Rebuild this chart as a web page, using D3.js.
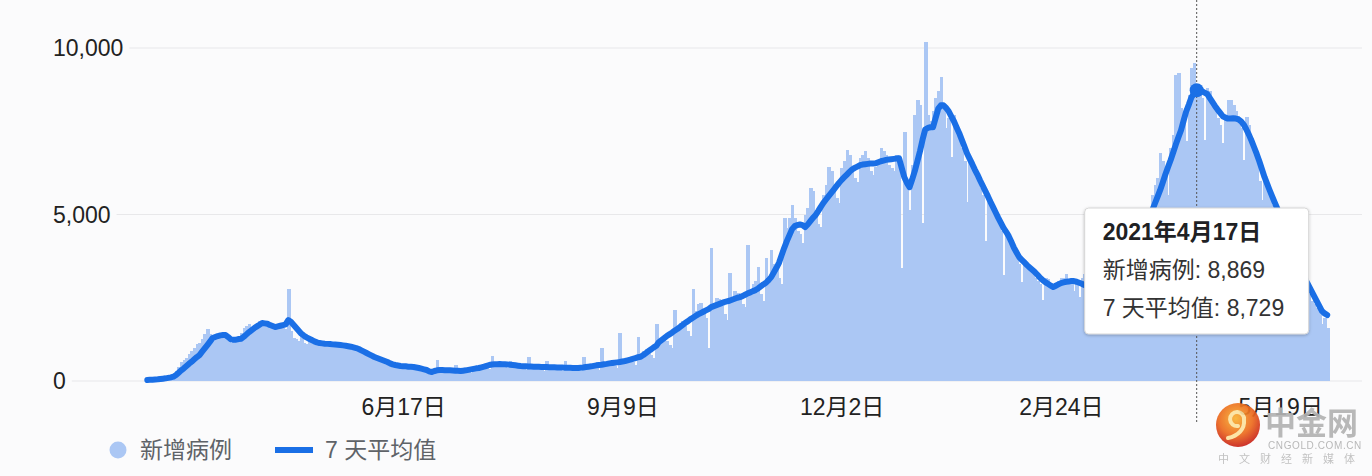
<!DOCTYPE html>
<html>
<head>
<meta charset="utf-8">
<script src="https://cdn.jsdelivr.net/npm/d3@7"></script>
<style>
html, body { margin: 0; padding: 0; background: #fbfbfc; }
svg { display: block; font-family: "Liberation Sans", Arial, "Noto Sans CJK SC", sans-serif; }
</style>
</head>
<body>
<svg id="chart" width="1372" height="476"></svg>
<script>
// daily series, one row = one week, first day 2020-03-11
var startDate = "2020-03-11";

var newCases = [
  25, 30, 40, 45, 60, 80, 95,
  90, 120, 160, 220, 300, 420, 560,
  640, 700, 800, 900, 1000, 1100, 1150,
  1250, 1400, 1550, 1400, 1300, 1250, 1350,
  1450, 1400, 1300, 1200, 1150, 1250, 1300,
  1350, 1450, 1600, 1650, 1700, 1550, 1650,
  1750, 1800, 1800, 1700, 1650, 1600, 1700,
  1600, 1650, 1700, 1600, 1550, 2760, 1500,
  1300, 1250, 1200, 1350, 1150, 1100, 1250,
  1200, 1150, 1120, 1100, 1150, 1100, 1150,
  1120, 1100, 1080, 1050, 1100, 1050, 1080,
  1050, 1000, 980, 950, 900, 850, 860,
  800, 780, 720, 700, 650, 640, 620,
  580, 560, 520, 480, 470, 440, 450,
  440, 430, 420, 410, 400, 390, 380,
  350, 320, 290, 240, 220, 330, 620,
  250, 320, 330, 300, 260, 240, 480,
  320, 330, 340, 300, 260, 250, 430,
  420, 450, 470, 420, 380, 350, 740,
  520, 540, 530, 460, 420, 380, 600,
  480, 470, 460, 410, 370, 340, 720,
  430, 420, 410, 380, 340, 310, 600,
  400, 410, 400, 370, 330, 300, 600,
  380, 390, 380, 350, 320, 290, 720,
  430, 450, 460, 420, 380, 340, 990,
  500, 520, 560, 500, 440, 400, 1440,
  600, 640, 680, 620, 560, 480, 1320,
  800, 900, 950, 880, 780, 700, 1710,
  1150, 1250, 1300, 1200, 1080, 1000, 2130,
  1600, 1750, 1800, 1650, 1500, 1350, 2760,
  2100, 2300, 2350, 2100, 1900, 990, 3990,
  2300, 2500, 2450, 2250, 2000, 1830, 3240,
  2500, 2700, 2650, 2450, 2300, 2220, 4080,
  2750, 2900, 3000, 3420, 2600, 2400, 3700,
  3100, 3930, 3500, 3400, 3100, 2900, 4900,
  4600, 4900, 5300, 4900, 4500, 4400, 4140,
  5000, 5200, 5790, 5700, 5000, 4700, 4620,
  5600, 5900, 6420, 6300, 5800, 5500, 5340,
  6400, 6600, 6930, 6800, 6300, 6100, 5970,
  6700, 6800, 6900, 6700, 6300, 6200, 6420,
  6600, 6990, 6900, 6800, 6500, 6400, 6300,
  6780, 6600, 3390, 7470, 6000, 5130, 6500,
  8000, 8430, 8300, 4740, 10170, 8000, 7800,
  8100, 8500, 8700, 9120, 8300, 7600, 7900,
  6720, 8000, 7700, 7400, 7000, 6600, 5370,
  6600, 6500, 6300, 6100, 5800, 5600, 4200,
  5500, 5400, 5200, 5000, 4700, 4500, 3180,
  4500, 4300, 4100, 3900, 3700, 3500, 2970,
  3600, 3500, 3400, 3300, 3100, 3000, 2900,
  2430, 3100, 3050, 2950, 2850, 2800, 3000,
  3100, 3100, 3200, 3000, 2900, 2700, 3000,
  2520, 3100, 3200, 3000, 2900, 2800, 3000,
  2600, 3100, 3300, 3100, 2900, 2800, 3200,
  2900, 3400, 3600, 3500, 3300, 3200, 3800,
  3400, 4100, 4500, 4600, 4400, 4300, 5000,
  5600, 5900, 6100, 6840, 6600, 6400, 5600,
  7000, 7400, 9180, 9240, 8200, 7800, 7200,
  8600, 9400, 9540, 8869, 8700, 8500, 7230,
  8800, 8700, 8400, 8200, 7900, 7700, 7140,
  8000, 8430, 8430, 8300, 8100, 7900, 7600,
  6630, 7920, 7700, 7300, 6900, 6600, 6000,
  5430, 6200, 6000, 5700, 5300, 5000, 4500,
  4800, 4600, 4400, 4100, 3900, 3600, 3300,
  3400, 3300, 3000, 2800, 2600, 2400, 2300,
  2200, 2100, 1700, 1900, 1600
];

var avg7 = [
  30, 35, 40, 45, 50, 60, 70,
  80, 95, 110, 130, 180, 250, 320,
  380, 450, 520, 580, 650, 720, 780,
  880, 980, 1080, 1180, 1290, 1320, 1350,
  1370, 1380, 1380, 1320, 1250, 1240, 1240,
  1260, 1270, 1330, 1400, 1470, 1530, 1590,
  1640, 1690, 1740, 1730, 1720, 1680, 1650,
  1620, 1640, 1660, 1680, 1700, 1830, 1780,
  1690, 1600, 1510, 1420, 1360, 1310, 1270,
  1230, 1190, 1160, 1140, 1130, 1120, 1115,
  1110, 1100, 1095, 1090, 1080, 1070, 1060,
  1045, 1030, 1010, 990, 960, 920, 880,
  840, 800, 760, 720, 690, 660, 630,
  600, 570, 530, 500, 480, 465, 450,
  445, 440, 430, 425, 420, 405, 390,
  370, 350, 330, 290, 270, 300, 320,
  330, 330, 325, 320, 320, 315, 310,
  305, 300, 310, 320, 335, 350, 365,
  380, 390, 410, 430, 455, 480, 495,
  500, 505, 510, 505, 500, 495, 490,
  480, 470, 460, 450, 445, 440, 435,
  432, 430, 428, 425, 422, 420, 418,
  415, 412, 410, 408, 405, 402, 400,
  398, 395, 392, 390, 392, 398, 405,
  420, 430, 440, 455, 470, 480, 490,
  505, 515, 530, 540, 550, 560, 570,
  585, 600, 620, 640, 665, 690, 715,
  730, 780, 840, 900, 950, 1010, 1060,
  1170, 1230, 1290, 1350, 1400, 1450, 1510,
  1560, 1620, 1680, 1740, 1790, 1850, 1900,
  1950, 2000, 2040, 2080, 2120, 2160, 2220,
  2250, 2280, 2310, 2340, 2370, 2390, 2410,
  2440, 2470, 2500, 2520, 2550, 2590, 2630,
  2660, 2700, 2730, 2780, 2840, 2900, 2950,
  3030, 3120, 3260, 3400, 3550, 3780, 4000,
  4200, 4380, 4560, 4650, 4680, 4700, 4680,
  4620, 4700, 4800, 4900, 4980, 5100, 5230,
  5350, 5450, 5550, 5650, 5750, 5850, 5950,
  6040, 6120, 6200, 6280, 6350, 6400, 6440,
  6480, 6500, 6510, 6520, 6530, 6535, 6540,
  6570, 6600, 6620, 6640, 6650, 6660, 6670,
  6680, 6690, 6400, 6120, 5950, 5820, 6050,
  6300, 6600, 6900, 7250, 7550, 7600, 7620,
  7620, 7900, 8180, 8280, 8280, 8200, 8100,
  7950, 7800, 7620, 7450, 7250, 7050, 6840,
  6680, 6520, 6350, 6200, 6030, 5870, 5710,
  5550, 5380, 5220, 5060, 4900, 4750, 4600,
  4480, 4350, 4180, 4000, 3860, 3720, 3640,
  3560, 3480, 3410, 3340, 3270, 3190, 3100,
  3030, 2970, 2920, 2870, 2820, 2860, 2900,
  2940, 2960, 2980, 2990, 3000, 3000, 2980,
  2950, 2920, 2880, 2880, 2890, 2900, 2910,
  2930, 2940, 2950, 2970, 2990, 3020, 3050,
  3100, 3170, 3240, 3300, 3400, 3500, 3600,
  3700, 3850, 4000, 4200, 4400, 4620, 4850,
  5130, 5330, 5530, 5730, 5960, 6200, 6420,
  6630, 6860, 7100, 7320, 7530, 7820, 8100,
  8300, 8520, 8630, 8729, 8720, 8700, 8660,
  8620, 8500, 8380, 8260, 8150, 8050, 7950,
  7910, 7880, 7880, 7890, 7880, 7860, 7800,
  7700, 7560, 7400, 7220, 7020, 6820, 6600,
  6360, 6120, 5920, 5720, 5530, 5340, 5160,
  4980, 4790, 4600, 4400, 4200, 4000, 3800,
  3600, 3400, 3200, 3000, 2850, 2700, 2550,
  2400, 2250, 2100, 2030, 1980
];

var xTickDates = ["2020-06-17", "2020-09-09", "2020-12-02", "2021-02-24", "2021-05-19"];
var yTicks = [0, 5000, 10000];
var seriesNames = ["新增病例", "7 天平均值"];
var focusDate = "2021-04-17";

var barColor = "#abc7f4";
var lineColor = "#1a6fe6";

var parse = d3.utcParse("%Y-%m-%d");
var t0 = parse(startDate);
var days = newCases.map(function (v, i) {
    return { date: d3.utcDay.offset(t0, i), cases: v, avg: avg7[i] };
});

var svg = d3.select("#chart");

var x = d3.scaleTime()
    .domain([d3.utcHour.offset(days[0].date, -12), d3.utcHour.offset(days[days.length - 1].date, 12)])
    .range([146, 1328.5]);
var y = d3.scaleLinear().domain([0, 10000]).range([381, 48]);
var fmt = d3.format(",");

// y grid + labels
var yg = svg.append("g");
yTicks.forEach(function (t) {
    var label = yg.append("text")
        .attr("x", 53)
        .attr("y", y(t))
        .attr("dy", "0.35em")
        .attr("font-size", 23)
        .attr("fill", "#222")
        .text(fmt(t));
    var w = label.node().getComputedTextLength();
    yg.insert("line", "text")
        .attr("x1", 53 + w + 6)
        .attr("x2", 1362)
        .attr("y1", y(t))
        .attr("y2", y(t))
        .attr("stroke", "#e8e8ea")
        .attr("stroke-width", 1.2);
});

// bars (slight overlap so neighbours join into one area)
var bw = x(d3.utcDay.offset(t0, 1)) - x(t0);
svg.append("g")
    .attr("shape-rendering", "crispEdges")
    .selectAll("rect")
    .data(days)
    .join("rect")
    .attr("x", function (d) { return x(d.date) - bw / 2; })
    .attr("width", bw + 1)
    .attr("y", function (d) { return y(d.cases); })
    .attr("height", function (d) { return y(0) - y(d.cases); })
    .attr("fill", barColor);

// 7 day line
var line = d3.line()
    .x(function (d) { return x(d.date); })
    .y(function (d) { return y(d.avg); });
svg.append("path")
    .datum(days)
    .attr("d", line)
    .attr("fill", "none")
    .attr("stroke", lineColor)
    .attr("stroke-width", 6)
    .attr("stroke-linejoin", "round")
    .attr("stroke-linecap", "round");

// x axis
var xa = svg.append("g")
    .attr("transform", "translate(0," + y(0) + ")")
    .call(d3.axisBottom(x)
        .tickValues(xTickDates.map(parse))
        .tickSize(0)
        .tickPadding(18)
        .tickFormat(d3.utcFormat("%-m月%-d日")));
xa.select(".domain").remove();
xa.attr("font-family", null).attr("font-size", null);
xa.selectAll("text").attr("font-size", 23).attr("fill", "#222");

// hover state
var focus = days.find(function (d) { return +d.date === +parse(focusDate); });
var fx = x(focus.date);
svg.append("line")
    .attr("x1", fx).attr("x2", fx)
    .attr("y1", 0).attr("y2", 422)
    .attr("stroke", "#555")
    .attr("stroke-width", 1)
    .attr("stroke-dasharray", "2,2");
svg.append("circle")
    .attr("cx", fx)
    .attr("cy", y(focus.avg))
    .attr("r", 7)
    .attr("fill", lineColor);

var defs = svg.append("defs");
var sh = defs.append("filter").attr("id", "shadow")
    .attr("x", "-10%").attr("y", "-10%").attr("width", "120%").attr("height", "130%");
sh.append("feDropShadow")
    .attr("dx", 0).attr("dy", 1)
    .attr("stdDeviation", 1.5)
    .attr("flood-color", "#000")
    .attr("flood-opacity", 0.25);

var tip = svg.append("g").attr("transform", "translate(" + (fx - 112) + ",208)");
tip.append("rect")
    .attr("width", 224)
    .attr("height", 126)
    .attr("rx", 4)
    .attr("fill", "#fff")
    .attr("stroke", "#d6d6d6")
    .attr("filter", "url(#shadow)");
tip.append("text")
    .attr("x", 18).attr("y", 24).attr("dy", "0.35em")
    .attr("font-size", 23)
    .attr("font-weight", "bold")
    .attr("fill", "#202124")
    .text(d3.utcFormat("%Y年%-m月%-d日")(focus.date));
tip.append("text")
    .attr("x", 18).attr("y", 62).attr("dy", "0.35em")
    .attr("font-size", 23)
    .attr("fill", "#333")
    .text(seriesNames[0] + ": " + fmt(focus.cases));
tip.append("text")
    .attr("x", 18).attr("y", 100).attr("dy", "0.35em")
    .attr("font-size", 23)
    .attr("fill", "#333")
    .text(seriesNames[1] + ": " + fmt(focus.avg));

// legend
var lg = svg.append("g");
lg.append("circle").attr("cx", 118).attr("cy", 450).attr("r", 8.5).attr("fill", barColor);
lg.append("text").attr("x", 140).attr("y", 450).attr("dy", "0.35em")
    .attr("font-size", 23).attr("fill", "#5f6368").text(seriesNames[0]);
lg.append("line").attr("x1", 275).attr("x2", 313).attr("y1", 450).attr("y2", 450)
    .attr("stroke", lineColor).attr("stroke-width", 6);
lg.append("text").attr("x", 325).attr("y", 450).attr("dy", "0.35em")
    .attr("font-size", 23).attr("fill", "#5f6368").text(seriesNames[1]);

// watermark
var grad = defs.append("radialGradient").attr("id", "wm").attr("cx", "45%").attr("cy", "35%").attr("r", "65%");
grad.append("stop").attr("offset", "0%").attr("stop-color", "#f9b233");
grad.append("stop").attr("offset", "60%").attr("stop-color", "#ec6a1e");
grad.append("stop").attr("offset", "100%").attr("stop-color", "#c9231b");
var wm = svg.append("g").attr("opacity", 0.92);
wm.append("circle").attr("cx", 1238).attr("cy", 425).attr("r", 22).attr("fill", "url(#wm)");
wm.append("path")
    .attr("d", "M1244,420 a7,7 0 1,0 -6,6 M1244,420 c1,9 -6,16 -16,18")
    .attr("fill", "none").attr("stroke", "#fde3a0").attr("stroke-width", 4).attr("stroke-linecap", "round");
wm.append("text").attr("x", 1265).attr("y", 434)
    .attr("font-size", 31).attr("font-weight", "bold").attr("fill", "#b3b3b3")
    .attr("font-family", "'Noto Sans CJK SC', sans-serif").text("中金网");
wm.append("text").attr("x", 1268).attr("y", 449)
    .attr("font-size", 10).attr("fill", "#b3b3b3").attr("letter-spacing", 0.6).text("CNGOLD.COM.CN");
wm.append("text").attr("x", 1218).attr("y", 463)
    .attr("font-size", 11).attr("fill", "#bdbdbd").attr("letter-spacing", 10)
    .attr("font-family", "'Noto Sans CJK SC', sans-serif").text("中文财经新媒体");
</script>
</body>
</html>
